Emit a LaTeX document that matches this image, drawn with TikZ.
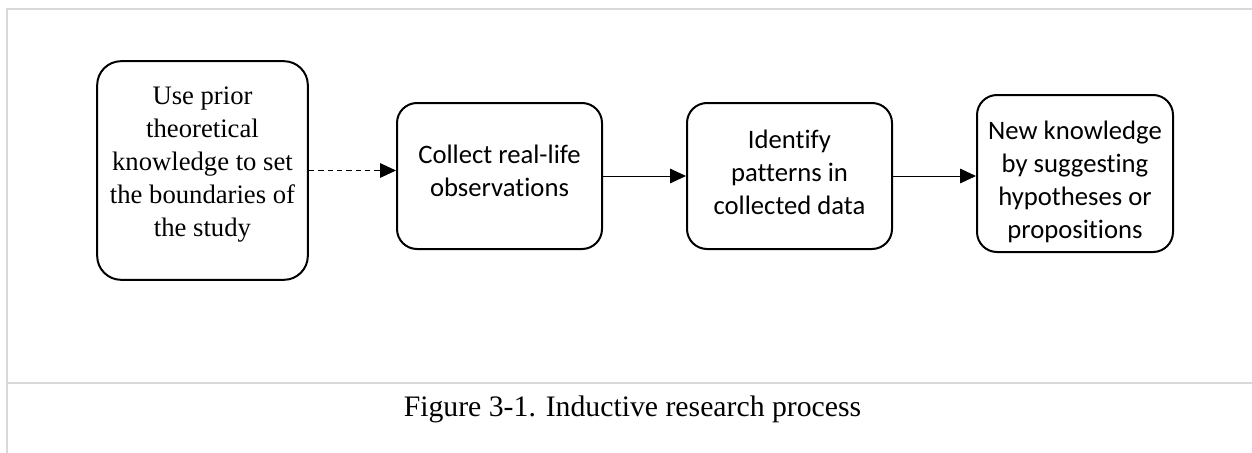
\documentclass[tikz,border=0pt]{standalone}
\usepackage{fontspec}
\setmainfont{Liberation Serif}
\newfontfamily\calibri[Ligatures=NoCommon]{Carlito}
\usepackage{tikz}
\usetikzlibrary{arrows.meta}
\usepackage{xcolor}
\definecolor{framegray}{HTML}{D9D9D9}
% centred lines of a stage, raised by #1 from the box centre (less the axis)
\newcommand{\stagelines}[2]{\raisebox{#1}[0pt][0pt]{\begin{tabular}{@{}c@{}}#2\end{tabular}}}

\begin{document}
\begin{tikzpicture}[
    x=0.75pt, y=-0.75pt,
    >={Triangle[length=12pt,width=11pt]},
    stage/.style={draw, line width=1.5pt, rounded corners=15pt,
        minimum width=153.75pt, minimum height=109.5pt,
        font=\calibri\fontsize{20}{24.75}\selectfont},
    frame/.style={draw=framegray, line width=1.5pt}
]
    \useasboundingbox (0,0) rectangle (1252,453);

    % Frame of the figure: top rule, left rule, rule above the caption
    \draw[frame] (6,9) -- (1252,9);
    \draw[frame] (7,9) -- (7,453);
    \draw[frame] (7,383) -- (1252,383);

    % The four stages, left to right
    \node[stage, rounded corners=18pt, minimum width=158pt, minimum height=164pt,
        font=\fontsize{20}{24.75}\selectfont] (prior) at (202.5,170.5)
        {\stagelines{0pt}{Use prior\\theoretical\\knowledge to set\\the boundaries of\\the study}};
    \node[stage] (collect) at (499.5,176)
        {\stagelines{-3.5pt}{Collect real-life\\observations}};
    \node[stage] (patterns) at (789.5,176)
        {\stagelines{-4.5pt}{Identify\\patterns in\\collected data}};
    \node[stage, minimum width=147pt, minimum height=117.75pt] (newknow) at (1075,173.5)
        {\stagelines{-11.5pt}{New knowledge\\by suggesting\\hypotheses or\\propositions}};

    \node[font=\fontsize{22.3}{26}\selectfont] (caption) at (632.5,409)
        {Figure 3-1. Inductive research process};

    \path[->, line width=0.75pt]
        (prior.east) edge[dash pattern=on 4pt off 3pt] (prior.east -| collect.west)
        (collect.east) edge (collect.east -| patterns.west)
        (patterns.east) edge (patterns.east -| newknow.west);
\end{tikzpicture}
\end{document}
